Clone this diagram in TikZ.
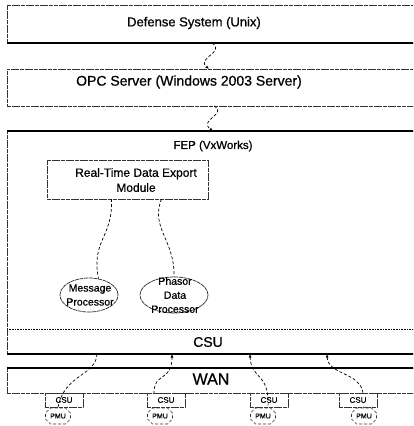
\documentclass[tikz,border=0pt]{standalone}
\usepackage{fontspec}
\setmainfont{Liberation Sans}[FakeBold=0.7]
\usetikzlibrary{arrows.meta,shapes.misc,shapes.geometric}
\begin{document}
\begin{tikzpicture}[x=1pt,y=-1pt,
  frame/.style={draw=black!80, dash pattern=on 4pt off 0.7pt, line width=0.7pt, inner sep=0pt, outer sep=0pt, anchor=north west},
  boundary/.style={draw=black, line width=1.1pt},
  wire/.style={draw=black, densely dashed, line width=0.7pt},
  tipin/.style={-{Latex[length=3.5pt,width=3pt]}},
  tipout/.style={{Latex[length=3.5pt,width=3pt]}-},
  blob/.style={ellipse, draw=black!85, dash pattern=on 4pt off 0.7pt, line width=0.7pt, inner sep=0pt},
  pmu/.style={chamfered rectangle, chamfered rectangle xsep=2.5pt, chamfered rectangle ysep=2.5pt,
    draw=black!80, densely dashed, line width=0.6pt, inner sep=0pt,
    minimum width=25pt, minimum height=16pt, font=\fontsize{7}{8}\selectfont},
  csubox/.style={frame, minimum width=38pt, minimum height=14pt, font=\fontsize{8}{9}\selectfont},
  txt/.style={inner sep=0pt, align=center}
]
\clip (0,0) rectangle (413,426);

% tiers of the system
\node[frame, minimum width=420pt, minimum height=38pt] (def) at (7,5) {};
\node[frame, minimum width=420pt, minimum height=37pt] (opc) at (7,69) {};
\node[frame, minimum width=420pt, minimum height=223pt] (fep) at (7,131) {};
\node[frame, minimum width=420pt, minimum height=25pt] (wan) at (7,368) {};
\draw[boundary] (def.south west) -- (def.south east);
\draw[boundary] (fep.north west) -- (fep.north east);
\draw[boundary] (fep.south west) -- (fep.south east);
\draw[boundary] (wan.north west) -- (wan.north east);
\coordinate (divl) at (7,329);
\draw[densely dotted, line width=0.6pt] (divl) -- (divl -| fep.east);

\node[txt, font=\fontsize{13}{15}\selectfont] (tdef) at (194,23) {Defense System (Unix)};
\node[txt, font=\fontsize{14}{16}\selectfont] (topc) at (189,82) {OPC Server (Windows 2003 Server)};
\node[txt, font=\fontsize{11.5}{13}\selectfont] (tfep) at (213,146) {FEP (VxWorks)};
\node[txt, font=\fontsize{14}{16}\selectfont] (tcsu) at (208,342) {CSU};
\node[txt, font=\fontsize{16}{18}\selectfont] (twan) at (211,379) {WAN};

% modules inside the FEP
\node[frame, minimum width=161pt, minimum height=39pt] (rt) at (47,160) {};
\node[txt, font=\fontsize{12}{15}\selectfont] (trt) at (136,180) {Real-Time Data Export\\Module};
\node[blob, minimum width=58pt, minimum height=34pt] (mp) at (89,295) {};
\node[blob, minimum width=68pt, minimum height=36pt] (pdp) at (174,295) {};
\node[txt, font=\fontsize{10.5}{14}\selectfont] (tmp) at (90,295) {Message\\Processor};
\node[txt, font=\fontsize{10.5}{14}\selectfont] (tpdp) at (175,295) {Phasor\\Data\\Processor};

% remote units
\node[csubox] (c1) at (45,393) {CSU};
\node[csubox] (c2) at (147,393) {CSU};
\node[csubox] (c3) at (250,393) {CSU};
\node[csubox] (c4) at (339,393) {CSU};
\node[pmu] (p1) at (58,416) {PMU};
\node[pmu] (p2) at (160,416) {PMU};
\node[pmu] (p3) at (263,416) {PMU};
\node[pmu] (p4) at (364,416) {PMU};

% links between tiers
\draw[wire, tipin] ([xshift=-5pt]def.south) .. controls (226,52) and (196,58) .. ([xshift=-8pt]opc.north);
\draw[wire, tipin] ([xshift=-3pt]opc.south) .. controls (228,114) and (198,120) .. ([xshift=-4pt]fep.north);

% links inside the FEP
\draw[wire] ([xshift=-16pt]rt.south) .. controls (113,238) and (91,240) .. (mp.60);
\draw[wire] ([xshift=34pt]rt.south) .. controls (150,228) and (175,240) .. (pdp.north);

% links from the field units
\draw[wire] ([xshift=90pt]fep.south west) .. controls (96,376) and (64,374) .. (p1.north);
\draw[wire, tipout] ([xshift=165pt]fep.south west) .. controls (172,382) and (154,372) .. ([xshift=-12pt]c2.north);
\draw[wire, tipout] ([xshift=243pt]fep.south west) .. controls (251,380) and (270,372) .. ([xshift=5pt]p3.north);
\draw[wire, tipout] ([xshift=320pt]fep.south west) .. controls (328,375) and (360,372) .. ([xshift=5pt]c4.north);
\draw[wire, black!60] ([xshift=5pt]c4.south) -- ([xshift=5pt]p4.north);
\end{tikzpicture}
\end{document}
